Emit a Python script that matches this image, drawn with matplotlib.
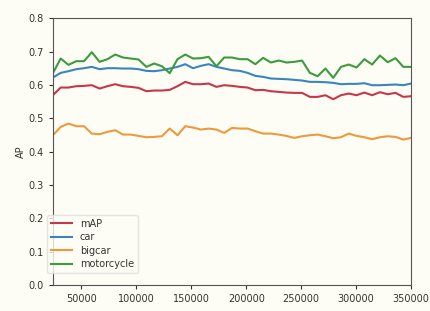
import numpy as np
import matplotlib
matplotlib.use("Agg")
import matplotlib.pyplot as plt

# iterations (47 evaluation points)
iters = np.linspace(24000, 350000, 47)

mAP = [0.569, 0.592, 0.592, 0.596, 0.597, 0.599, 0.589, 0.596, 0.602, 0.596,
       0.594, 0.591, 0.581, 0.583, 0.583, 0.585, 0.596, 0.609, 0.602, 0.602,
       0.604, 0.594, 0.599, 0.597, 0.594, 0.592, 0.584, 0.585, 0.581, 0.579,
       0.577, 0.576, 0.576, 0.564, 0.564, 0.569, 0.557, 0.569, 0.574, 0.569,
       0.577, 0.569, 0.578, 0.572, 0.576, 0.564, 0.566]
car = [0.622, 0.636, 0.641, 0.647, 0.650, 0.654, 0.647, 0.650, 0.650, 0.649,
       0.649, 0.647, 0.642, 0.641, 0.644, 0.649, 0.654, 0.662, 0.650, 0.657,
       0.662, 0.654, 0.649, 0.644, 0.642, 0.636, 0.627, 0.624, 0.619, 0.618,
       0.617, 0.615, 0.613, 0.609, 0.609, 0.608, 0.606, 0.602, 0.603, 0.603,
       0.605, 0.599, 0.599, 0.600, 0.601, 0.599, 0.604]
bigcar = [0.449, 0.474, 0.484, 0.476, 0.476, 0.454, 0.452, 0.459, 0.464, 0.451,
          0.451, 0.447, 0.443, 0.444, 0.446, 0.469, 0.449, 0.476, 0.472, 0.466,
          0.469, 0.466, 0.456, 0.471, 0.469, 0.469, 0.461, 0.454, 0.454, 0.451,
          0.447, 0.441, 0.446, 0.449, 0.451, 0.446, 0.440, 0.443, 0.454, 0.447,
          0.443, 0.437, 0.443, 0.446, 0.444, 0.436, 0.441]
motorcycle = [0.635, 0.679, 0.660, 0.671, 0.671, 0.698, 0.669, 0.677, 0.691, 0.682,
              0.679, 0.676, 0.654, 0.664, 0.656, 0.635, 0.677, 0.691, 0.679, 0.680,
              0.684, 0.656, 0.682, 0.682, 0.677, 0.677, 0.662, 0.681, 0.667, 0.673,
              0.667, 0.669, 0.673, 0.636, 0.626, 0.649, 0.621, 0.654, 0.661, 0.652,
              0.677, 0.661, 0.688, 0.668, 0.680, 0.654, 0.654]

bg = "#fdfdf5"
txt = "#333333"

fig = plt.figure(figsize=(4.3, 3.11), dpi=100, facecolor=bg)
ax = fig.add_axes([0.123, 0.0836, 0.833, 0.858], facecolor=bg)

ax.plot(iters, mAP, color="#c8364a", lw=1.5, label="mAP")
ax.plot(iters, car, color="#3a85c0", lw=1.5, label="car")
ax.plot(iters, bigcar, color="#ec9a3c", lw=1.5, label="bigcar")
ax.plot(iters, motorcycle, color="#3c9b3c", lw=1.5, label="motorcycle")

ax.set_xlim(24000, 350000)
ax.set_ylim(0.0, 0.8)
ax.set_xticks(np.arange(50000, 350001, 50000))
ax.set_yticks(np.arange(0, 0.81, 0.1))
ax.yaxis.set_major_formatter(matplotlib.ticker.FormatStrFormatter("%.1f"))
ax.tick_params(labelsize=7, colors=txt, length=3, width=0.8)
ax.set_ylabel("AP", fontsize=7, color=txt, labelpad=2)
for s in ax.spines.values():
    s.set_color("#555555")
    s.set_linewidth(0.8)

leg = ax.legend(loc="lower left", bbox_to_anchor=(-0.017, 0.045), borderaxespad=0,
                fontsize=7, frameon=True, facecolor=bg, edgecolor="#dddddd",
                handlelength=2.2, labelspacing=0.35)
for t in leg.get_texts():
    t.set_color(txt)

fig.savefig("out.png", dpi=100, facecolor=bg)
